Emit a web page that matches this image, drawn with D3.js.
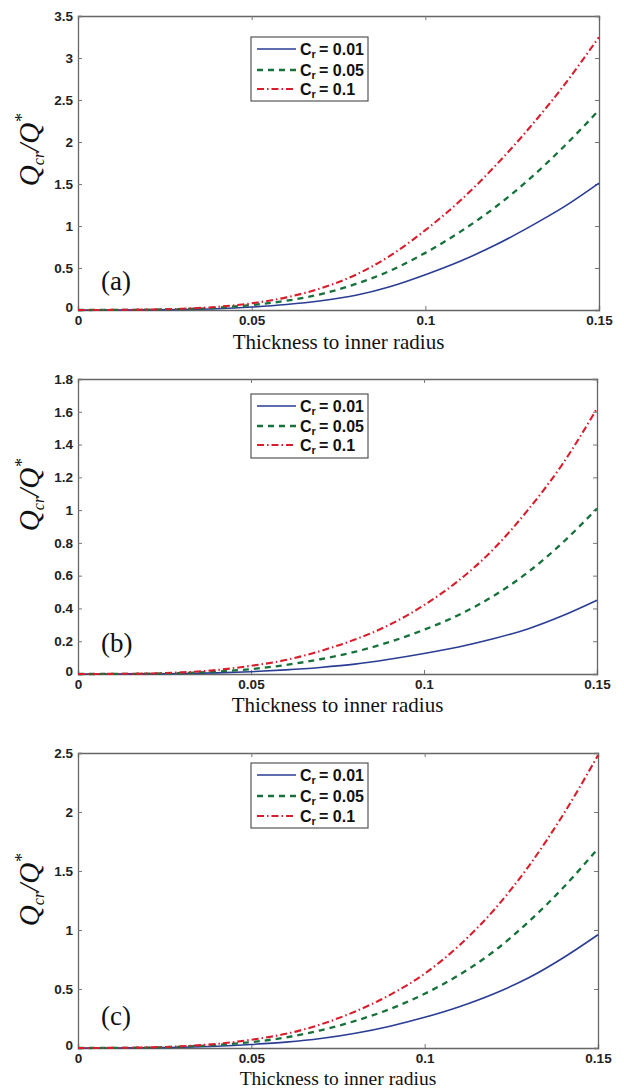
<!DOCTYPE html>
<html><head><meta charset="utf-8">
<script src="https://cdn.jsdelivr.net/npm/d3@7"></script>
<style>body{margin:0;background:#fff}svg{display:block}</style>
</head><body>
<svg id="c" width="624" height="1089"></svg>
<script>
const xValues = [0,0.01,0.02,0.03,0.04,0.05,0.06,0.07,0.08,0.09,0.10,0.11,0.12,0.13,0.14,0.15];
const seriesNames = ["0.01","0.05","0.1"];
const xTicks = [0,0.05,0.1,0.15];
const xTickLabels = ["0","0.05","0.1","0.15"];

const aBlue  = [0,0.0005,0.002,0.006,0.015,0.035,0.065,0.11,0.175,0.28,0.42,0.58,0.77,0.99,1.23,1.51];
const aGreen = [0,0.001,0.004,0.011,0.027,0.06,0.11,0.19,0.31,0.47,0.68,0.93,1.22,1.56,1.95,2.38];
const aRed   = [0,0.001,0.005,0.015,0.037,0.08,0.15,0.26,0.42,0.65,0.95,1.30,1.71,2.17,2.68,3.25];
const aYTicks = [0,0.5,1,1.5,2,2.5,3,3.5];
const aYTickLabels = ["0","0.5","1","1.5","2","2.5","3","3.5"];

const bBlue  = [0,0.0002,0.001,0.003,0.007,0.014,0.025,0.04,0.06,0.09,0.125,0.165,0.215,0.275,0.355,0.45];
const bGreen = [0,0.0005,0.002,0.006,0.015,0.03,0.055,0.09,0.135,0.195,0.27,0.36,0.475,0.62,0.80,1.01];
const bRed   = [0,0.0008,0.003,0.01,0.024,0.05,0.085,0.14,0.21,0.30,0.42,0.57,0.76,1.00,1.28,1.62];
const bYTicks = [0,0.2,0.4,0.6,0.8,1,1.2,1.4,1.6,1.8];
const bYTickLabels = ["0","0.2","0.4","0.6","0.8","1","1.2","1.4","1.6","1.8"];

const cBlue  = [0,0.0004,0.002,0.006,0.015,0.03,0.05,0.08,0.125,0.185,0.26,0.35,0.46,0.595,0.765,0.96];
const cGreen = [0,0.0008,0.004,0.011,0.026,0.05,0.09,0.15,0.23,0.33,0.46,0.62,0.82,1.07,1.36,1.69];
const cRed   = [0,0.001,0.005,0.015,0.035,0.07,0.12,0.20,0.31,0.45,0.63,0.87,1.17,1.54,1.98,2.48];
const cYTicks = [0,0.5,1,1.5,2,2.5];
const cYTickLabels = ["0","0.5","1","1.5","2","2.5"];

const panelLabels = ["(a)","(b)","(c)"];
const xTitle = "Thickness to inner radius";

const styles = [
  {color:"#2a3d94", dash:null, width:1.6},
  {color:"#16713a", dash:"6,5", width:2.3},
  {color:"#d81e2c", dash:"7,3,1.5,3", width:2.1}
];

const panels = [
  {series:[aBlue,aGreen,aRed], yMax:3.5, yTicks:aYTicks, yLabels:aYTickLabels, top:16, bottom:310, right:599, label:panelLabels[0], labelY:290, titleY:349, titleSize:21, yTitleC:150, leg:{x:251,y:37,h:64,rows:[49,70,89]}},
  {series:[bBlue,bGreen,bRed], yMax:1.8, yTicks:bYTicks, yLabels:bYTickLabels, top:379, bottom:674, right:597, label:panelLabels[1], labelY:652, titleY:712, titleSize:21, yTitleC:495, leg:{x:251,y:394,h:64,rows:[406,426,445]}},
  {series:[cBlue,cGreen,cRed], yMax:2.5, yTicks:cYTicks, yLabels:cYTickLabels, top:753, bottom:1048, right:598, label:panelLabels[2], labelY:1025, titleY:1084.5, titleSize:19.5, yTitleC:890, leg:{x:251,y:763,h:65,rows:[775,796,816]}}
];

const svg = d3.select("#c");
const left = 78;
const tickFont = "'Liberation Sans', Arial, sans-serif";
const serif = "'Liberation Serif', 'Times New Roman', serif";

panels.forEach(p => {
  const x = d3.scaleLinear().domain([0,0.15]).range([left,p.right]);
  const y = d3.scaleLinear().domain([0,p.yMax]).range([p.bottom,p.top]);
  const g = svg.append("g");

  const axB = g.append("g").attr("transform",`translate(0,${p.bottom})`)
    .call(d3.axisBottom(x).tickValues(xTicks).tickSize(-4).tickPadding(5).tickFormat((d,i)=>xTickLabels[i]));
  const axT = g.append("g").attr("transform",`translate(0,${p.top})`)
    .call(d3.axisTop(x).tickValues(xTicks).tickSize(-4).tickFormat(""));
  const axL = g.append("g").attr("transform",`translate(${left},0)`)
    .call(d3.axisLeft(y).tickValues(p.yTicks).tickSize(-4).tickPadding(5).tickFormat((d,i)=>p.yLabels[i]));
  const axR = g.append("g").attr("transform",`translate(${p.right},0)`)
    .call(d3.axisRight(y).tickValues(p.yTicks).tickSize(-4).tickFormat(""));
  [axB,axT,axL,axR].forEach(a=>{
    a.select(".domain").attr("stroke","#666").attr("stroke-width",1.3);
    a.selectAll(".tick line").attr("stroke","#777").attr("stroke-width",1);
    a.selectAll("text").attr("font-family",tickFont).attr("font-weight","bold").attr("font-size",13.5).attr("fill","#222");
  });
  axL.selectAll(".tick text").attr("x",-5);
  axL.selectAll(".tick").filter(d=>d===0).select("text").attr("dy","0.1em");
  axB.selectAll(".tick text").attr("dy","0.72em");

  const line = d3.line().x((d,i)=>x(xValues[i])).y(d=>y(d)).curve(d3.curveMonotoneX);
  p.series.forEach((s,k)=>{
    const st = styles[k];
    g.append("path").datum(s).attr("d",line).attr("fill","none")
      .attr("stroke",st.color).attr("stroke-width",st.width)
      .attr("stroke-dasharray",st.dash);
  });

  const L = p.leg;
  g.append("rect").attr("x",L.x).attr("y",L.y).attr("width",117).attr("height",L.h)
    .attr("fill","#fff").attr("stroke","#555").attr("stroke-width",1.2);
  seriesNames.forEach((n,k)=>{
    const st = styles[k];
    g.append("line").attr("x1",L.x+6).attr("x2",L.x+45).attr("y1",L.rows[k]).attr("y2",L.rows[k])
      .attr("stroke",st.color).attr("stroke-width",st.width).attr("stroke-dasharray",st.dash);
    const t = g.append("text").attr("x",L.x+49).attr("y",L.rows[k]+6)
      .attr("font-family",tickFont).attr("font-weight","bold").attr("font-size",16).attr("fill","#111");
    t.append("tspan").text("C");
    t.append("tspan").attr("font-size",11).attr("dy",3).text("r");
    t.append("tspan").attr("dy",-3).text("\u2009= " + n);
  });

  g.append("text").attr("x",101).attr("y",p.labelY).attr("font-family",serif)
    .attr("font-size",27).attr("fill","#111").text(p.label);

  g.append("text").attr("x",(left+p.right)/2).attr("y",p.titleY).attr("text-anchor","middle")
    .attr("font-family",serif).attr("font-size",p.titleSize).attr("fill","#111").text(xTitle);

  const yt = g.append("text").attr("transform",`translate(39,${p.yTitleC}) rotate(-90)`)
    .attr("text-anchor","middle").attr("font-family",serif).attr("font-style","italic")
    .attr("font-size",29).attr("fill","#111");
  yt.append("tspan").text("Q");
  yt.append("tspan").attr("font-size",16).attr("dy",5).text("cr");
  yt.append("tspan").attr("dy",-5).text("/Q");
  yt.append("tspan").attr("font-size",18).attr("dy",-11).text("*");
});
</script>
</body></html>
